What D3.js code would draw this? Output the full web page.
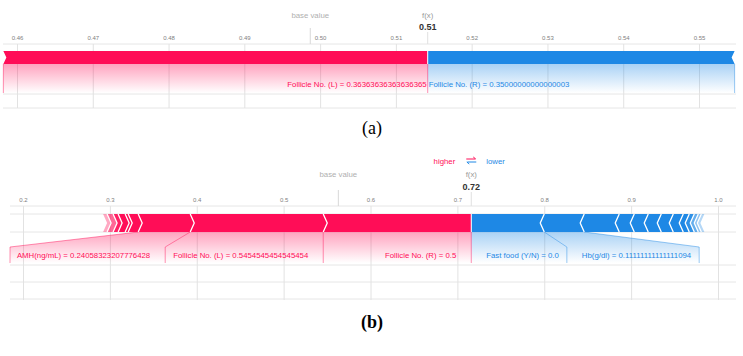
<!DOCTYPE html>
<html><head><meta charset="utf-8">
<script src="https://cdn.jsdelivr.net/npm/d3@7"></script>
<style>body{margin:0;background:#fff} svg{display:block}</style>
</head><body><svg id="c" width="743" height="356"></svg>
<script>
// ---------- Panel (a) data ----------
const aTicks = [0.46, 0.47, 0.48, 0.49, 0.50, 0.51, 0.52, 0.53, 0.54, 0.55];
const aTickLabels = ["0.46", "0.47", "0.48", "0.49", "0.50", "0.51", "0.52", "0.53", "0.54", "0.55"];
const aBaseValue = 0.4987;
const aFx = 0.5142;
const aFxLabel = "0.51";
const aPosNames = ["Follicle No. (L) = 0.36363636363636365"];
const aPosEffects = [0.0560];
const aNegNames = ["Follicle No. (R) = 0.35000000000000003"];
const aNegEffects = [0.0405];

// ---------- Panel (b) data ----------
const bTicks = [0.2, 0.3, 0.4, 0.5, 0.6, 0.7, 0.8, 0.9, 1.0];
const bTickLabels = ["0.2", "0.3", "0.4", "0.5", "0.6", "0.7", "0.8", "0.9", "1.0"];
const bBaseValue = 0.563;
const bFx = 0.716;
const bFxLabel = "0.72";
const bPosNames = ["Follicle No. (R) = 0.5", "Follicle No. (L) = 0.5454545454545454",
  "AMH(ng/mL) = 0.24058323207776428", "", "", "", "", "", ""];
const bPosEffects = [0.1704, 0.1531, 0.0599, 0.0115, 0.0035, 0.0081, 0.0058, 0.0069, 0.0046];
const bNegNames = ["Fast food (Y/N) = 0.0", "Hb(g/dl) = 0.11111111111111094",
  "", "", "", "", "", "", "", "", "", "", ""];
const bNegEffects = [0.0840, 0.0460, 0.0403, 0.0173, 0.0161, 0.0150, 0.0138, 0.0115, 0.0069, 0.0058, 0.0046, 0.0035, 0.0035];

const legendHigher = "higher", legendLower = "lower";
const captions = ["(a)", "(b)"];

// ---------- drawing ----------
const RED = "#ff0d57", BLUE = "#1e88e5";
const FONT = "'Liberation Sans', Arial, sans-serif";
const svg = d3.select("#c");
const defs = svg.append("defs");
function vgrad(id, color, op) {
  const g = defs.append("linearGradient").attr("id", id)
    .attr("x1", 0).attr("y1", 0).attr("x2", 0).attr("y2", 1);
  g.append("stop").attr("offset", "0%").attr("stop-color", color).attr("stop-opacity", op);
  g.append("stop").attr("offset", "100%").attr("stop-color", color).attr("stop-opacity", 0);
}
vgrad("gr", RED, 0.38);
vgrad("gb", BLUE, 0.38);

function drawForce(cfg) {
  const g = svg.append("g");
  const x = d3.scaleLinear().domain(cfg.domain).range(cfg.range);
  const top = cfg.barTop, bot = cfg.barTop + cfg.barH, mid = (top + bot) / 2, dep = cfg.depth;

  // horizontal grid lines
  g.selectAll(".hl").data(cfg.hLines).enter().append("line")
    .attr("x1", cfg.left).attr("x2", cfg.right)
    .attr("y1", d => d).attr("y2", d => d)
    .attr("stroke", "#e6e6e6").attr("stroke-width", 1);

  // axis with vertical grid lines
  const axis = d3.axisBottom(x).tickValues(cfg.ticks)
    .tickFormat((d, i) => cfg.tickLabels[i]).tickSize(cfg.gridBottom - cfg.axisY);
  const ag = g.append("g").attr("transform", `translate(0,${cfg.axisY})`).call(axis);
  ag.select(".domain").remove();
  ag.selectAll(".tick line").attr("stroke", "#e2e2e2");
  ag.selectAll(".tick text").attr("y", cfg.tickTextY - cfg.axisY).attr("dy", 0)
    .attr("fill", "#808080").attr("font-size", "6px").attr("font-family", FONT);

  // base value
  const bx = x(cfg.base);
  g.append("line").attr("x1", bx).attr("x2", bx).attr("y1", cfg.baseLineTop).attr("y2", cfg.axisY)
    .attr("stroke", "#d8d8d8");
  g.append("text").attr("x", bx).attr("y", cfg.headY).attr("text-anchor", "middle")
    .attr("font-size", "7.8px").attr("font-family", FONT).attr("fill", "#b0b0b0").text("base value");

  // f(x)
  const fx = x(cfg.fx);
  g.append("line").attr("x1", fx).attr("x2", fx).attr("y1", cfg.fxLineTop).attr("y2", cfg.axisY)
    .attr("stroke", "#e0e0e0");
  g.append("text").attr("x", fx).attr("y", cfg.headY).attr("text-anchor", "middle")
    .attr("font-size", "7.8px").attr("font-family", FONT).attr("fill", "#999").text("f(x)");
  g.append("text").attr("x", fx).attr("y", cfg.fxValY).attr("text-anchor", "middle")
    .attr("font-size", "9px").attr("font-weight", "bold").attr("font-family", FONT)
    .attr("fill", "#333").text(cfg.fxLabel);

  // blocks
  const pos = []; let c = cfg.fx;
  cfg.posEffects.forEach((e, i) => { pos.push({ x0: c - e, x1: c, name: cfg.posNames[i], i }); c -= e; });
  const posEnd = x(c);
  const neg = []; c = cfg.fx;
  cfg.negEffects.forEach((e, i) => { neg.push({ x0: c, x1: c + e, name: cfg.negNames[i], i }); c += e; });
  const negEnd = x(c);

  const fadeOp = dist => cfg.fade > 0 ? Math.min(1, 0.25 + 0.75 * dist / cfg.fade) : 1;

  // label backings (drawn first, under the bar)
  const backG = g.append("g");
  const linkG = g.append("g");

  g.selectAll(".pb").data(pos).enter().append("path")
    .attr("d", d => {
      const X0 = x(d.x0), X1 = x(d.x1);
      const pts = [[X0, top], [X1, top], [X1 + (d.i === 0 ? 0 : dep), mid], [X1, bot], [X0, bot], [X0 + dep, mid]];
      return "M" + pts.map(p => p.join(",")).join("L") + "Z";
    })
    .attr("fill", RED)
    .attr("fill-opacity", d => fadeOp((x(d.x0) + x(d.x1)) / 2 - posEnd));
  g.selectAll(".nb").data(neg).enter().append("path")
    .attr("d", d => {
      const X0 = x(d.x0), X1 = x(d.x1);
      const pts = [[X0, top], [X1, top], [X1 - dep, mid], [X1, bot], [X0, bot], [X0 - (d.i === 0 ? 0 : dep), mid]];
      return "M" + pts.map(p => p.join(",")).join("L") + "Z";
    })
    .attr("fill", BLUE)
    .attr("fill-opacity", d => fadeOp(negEnd - (x(d.x0) + x(d.x1)) / 2));

  // white chevron separators
  g.selectAll(".ps").data(pos.filter(d => d.i > 0)).enter().append("path")
    .attr("d", d => { const X1 = x(d.x1); return `M${X1},${top}L${X1 + dep},${mid}L${X1},${bot}`; })
    .attr("fill", "none").attr("stroke", "#fff").attr("stroke-width", cfg.sepW);
  g.selectAll(".ns").data(neg.filter(d => d.i > 0)).enter().append("path")
    .attr("d", d => { const X0 = x(d.x0); return `M${X0},${top}L${X0 - dep},${mid}L${X0},${bot}`; })
    .attr("fill", "none").attr("stroke", "#fff").attr("stroke-width", cfg.sepW);
  g.append("line").attr("x1", fx).attr("x2", fx).attr("y1", top).attr("y2", bot)
    .attr("stroke", "#fff").attr("stroke-width", 1);

  // labels
  const labelText = (name, color) => g.append("text").attr("y", cfg.labelY)
    .attr("font-size", "7.8px").attr("font-family", FONT).attr("fill", color).text(name);

  // first dividers at f(x)
  linkG.append("line").attr("x1", fx).attr("x2", fx).attr("y1", bot).attr("y2", cfg.bottomY)
    .attr("stroke", RED).attr("stroke-opacity", 0.45);

  let R = fx;
  pos.filter(d => d.name).forEach(d => {
    const t = labelText(d.name, RED);
    const w = t.node().getComputedTextLength();
    const tEnd = R - cfg.pad;
    t.attr("x", tEnd).attr("text-anchor", "end");
    const segL = x(d.x0), segR = x(d.x1);
    const L = Math.max(cfg.left, Math.min(segL, tEnd - w - cfg.gap));
    backG.append("path")
      .attr("d", `M${segL},${bot}L${segR},${bot}L${R},${cfg.linkY}L${R},${cfg.bottomY}L${L},${cfg.bottomY}L${L},${cfg.linkY}Z`)
      .attr("fill", "url(#gr)");
    linkG.append("path").attr("d", `M${segL},${bot}L${L},${cfg.linkY}L${L},${cfg.bottomY}`)
      .attr("fill", "none").attr("stroke", RED).attr("stroke-opacity", 0.45);
    R = L;
  });

  let L = fx;
  neg.filter(d => d.name).forEach(d => {
    const t = labelText(d.name, BLUE);
    const w = t.node().getComputedTextLength();
    const tStart = L + cfg.pad;
    t.attr("x", tStart).attr("text-anchor", "start");
    const segL = x(d.x0), segR = x(d.x1);
    const Rr = Math.min(cfg.right, Math.max(segR, tStart + w + cfg.gap));
    backG.append("path")
      .attr("d", `M${segL},${bot}L${segR},${bot}L${Rr},${cfg.linkY}L${Rr},${cfg.bottomY}L${L},${cfg.bottomY}L${L},${cfg.linkY}Z`)
      .attr("fill", "url(#gb)");
    linkG.append("path").attr("d", `M${segR},${bot}L${Rr},${cfg.linkY}L${Rr},${cfg.bottomY}`)
      .attr("fill", "none").attr("stroke", BLUE).attr("stroke-opacity", 0.45);
    L = Rr;
  });
  return { x, g };
}

drawForce({
  domain: [aTicks[0], aTicks[aTicks.length - 1]], range: [17, 699],
  ticks: aTicks, tickLabels: aTickLabels, base: aBaseValue, fx: aFx, fxLabel: aFxLabel,
  posNames: aPosNames, posEffects: aPosEffects, negNames: aNegNames, negEffects: aNegEffects,
  left: 3, right: 736, hLines: [44, 94, 108], axisY: 44, gridBottom: 108, tickTextY: 39.5,
  headY: 17.5, fxValY: 30, baseLineTop: 28, fxLineTop: 32,
  barTop: 51, barH: 13, depth: 3, sepW: 1, fade: 0,
  labelY: 86.5, linkY: 64, bottomY: 93, pad: 1, gap: 6
});

const pb = drawForce({
  domain: [bTicks[0], bTicks[bTicks.length - 1]], range: [23, 718],
  ticks: bTicks, tickLabels: bTickLabels, base: bBaseValue, fx: bFx, fxLabel: bFxLabel,
  posNames: bPosNames, posEffects: bPosEffects, negNames: bNegNames, negEffects: bNegEffects,
  left: 10, right: 736, hLines: [206, 214, 232, 265, 282, 299], axisY: 206, gridBottom: 300, tickTextY: 201.5,
  headY: 176.5, fxValY: 190, baseLineTop: 190, fxLineTop: 192,
  barTop: 214, barH: 18, depth: 4, sepW: 1.3, fade: 14,
  labelY: 257.5, linkY: 247, bottomY: 263, pad: 15, gap: 8
});

// legend for (b)
{
  const lx = pb.x(bFx), ly = 163.5;
  svg.append("text").attr("x", lx - 16).attr("y", ly).attr("text-anchor", "end")
    .attr("font-size", "7.8px").attr("font-family", FONT).attr("fill", RED).text(legendHigher);
  svg.append("text").attr("x", lx + 15).attr("y", ly).attr("text-anchor", "start")
    .attr("font-size", "7.8px").attr("font-family", FONT).attr("fill", BLUE).text(legendLower);
  const ig = svg.append("g").attr("transform", `translate(${lx},${ly - 3})`);
  ig.append("path").attr("d", "M-5,-1.5L4,-1.5M2,-3.5L4.5,-1.5").attr("stroke", RED).attr("fill", "none").attr("stroke-width", 1);
  ig.append("path").attr("d", "M5,1.5L-4,1.5M-2,3.5L-4.5,1.5").attr("stroke", BLUE).attr("fill", "none").attr("stroke-width", 1);
}

// captions
svg.append("text").attr("x", 372).attr("y", 134).attr("text-anchor", "middle")
  .attr("font-family", "'Liberation Serif', 'Times New Roman', serif").attr("font-size", "18px")
  .attr("fill", "#000").text(captions[0]);
svg.append("text").attr("x", 372).attr("y", 328).attr("text-anchor", "middle")
  .attr("font-family", "'Liberation Serif', 'Times New Roman', serif").attr("font-size", "18px")
  .attr("font-weight", "bold").attr("fill", "#000").text(captions[1]);
</script></body></html>
